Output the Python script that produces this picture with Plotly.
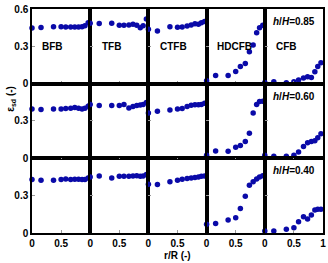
import plotly.graph_objects as go
from plotly.subplots import make_subplots

r_pos = [0, 0.155, 0.37, 0.5, 0.58, 0.665, 0.735, 0.8, 0.86, 0.91, 0.965]
beds = ["BFB", "TFB", "CTFB", "HDCFB", "CFB"]
heights = ["0.85", "0.60", "0.40"]

# h/H = 0.85
bfb_085 = [0.448, 0.452, 0.458, 0.458, 0.456, 0.456, 0.456, 0.456, 0.458, 0.466, 0.49]
tfb_085 = [0.486, 0.483, 0.486, 0.47, 0.47, 0.472, 0.478, 0.47, 0.45, 0.466, 0.52]
ctfb_085 = [0.438, 0.424, 0.458, 0.454, 0.456, 0.464, 0.472, 0.482, 0.478, 0.49, 0.5]
hdcfb_085 = [0.024, 0.066, 0.066, 0.098, 0.138, 0.162, 0.256, 0.31, 0.41, 0.45, 0.47]
cfb_085 = [0.01, 0.016, 0.008, 0.016, 0.03, 0.046, 0.056, 0.05, 0.096, 0.138, 0.168]
# h/H = 0.60
bfb_060 = [0.397, 0.392, 0.397, 0.397, 0.4, 0.403, 0.408, 0.403, 0.397, 0.403, 0.418]
tfb_060 = [0.432, 0.424, 0.424, 0.424, 0.432, 0.405, 0.416, 0.424, 0.429, 0.432, 0.448]
ctfb_060 = [0.365, 0.378, 0.389, 0.397, 0.4, 0.416, 0.427, 0.43, 0.43, 0.432, 0.443]
hdcfb_060 = [0.024, 0.058, 0.056, 0.09, 0.104, 0.136, 0.202, 0.365, 0.432, 0.456, 0.458]
cfb_060 = [0.024, 0.016, 0.016, 0.024, 0.05, 0.096, 0.125, 0.136, 0.141, 0.165, 0.197]
# h/H = 0.40
bfb_040 = [0.43, 0.424, 0.424, 0.43, 0.434, 0.43, 0.432, 0.432, 0.43, 0.43, 0.442]
tfb_040 = [0.45, 0.458, 0.442, 0.456, 0.456, 0.456, 0.458, 0.46, 0.456, 0.458, 0.47]
ctfb_040 = [0.392, 0.389, 0.411, 0.424, 0.432, 0.437, 0.442, 0.445, 0.45, 0.456, 0.458]
hdcfb_040 = [0.07, 0.077, 0.104, 0.123, 0.197, 0.296, 0.384, 0.411, 0.434, 0.45, 0.461]
cfb_040 = [0.016, 0.016, 0.03, 0.043, 0.09, 0.13, 0.112, 0.144, 0.184, 0.19, 0.19]

rows_data = [
    [bfb_085, tfb_085, ctfb_085, hdcfb_085, cfb_085],
    [bfb_060, tfb_060, ctfb_060, hdcfb_060, cfb_060],
    [bfb_040, tfb_040, ctfb_040, hdcfb_040, cfb_040],
]

FONT = "Liberation Sans"
MARK = "#0a0aa8"

fig = make_subplots(rows=3, cols=5, horizontal_spacing=0, vertical_spacing=0)

for i, row in enumerate(rows_data):
    for j, ys in enumerate(row):
        fig.add_trace(go.Scatter(x=r_pos, y=ys, mode="markers",
                                 marker=dict(color=MARK, size=5.5),
                                 cliponaxis=False, showlegend=False),
                      row=i + 1, col=j + 1)

tickfont = dict(family=FONT, size=10, color="black", weight="bold")
for i in range(3):
    for j in range(5):
        xt = [0, 0.5, 1] if j == 4 else [0, 0.5]
        fig.update_xaxes(range=[0, 1], tickvals=xt, ticktext=[f"{v:g}" for v in xt],
                         showticklabels=(i == 2), showgrid=False, zeroline=False,
                         showline=True, mirror=True, linecolor="black", linewidth=1.5,
                         ticks="inside", ticklen=3, tickcolor="#999999",
                         tickfont=tickfont, row=i + 1, col=j + 1)
        yt = [0, 0.3, 0.6] if i == 0 else [0, 0.3]
        fig.update_yaxes(range=[0, 0.6], tickvals=yt, ticktext=[f"{v:g}" for v in yt],
                         showticklabels=(j == 0), showgrid=False, zeroline=False,
                         showline=True, mirror=True, linecolor="black", linewidth=1.5,
                         ticks="inside", ticklen=3, tickcolor="#999999",
                         tickfont=tickfont, row=i + 1, col=j + 1)

label_x = [0.36, 0.37, 0.43, 0.48, 0.37]
for j, name in enumerate(beds):
    fig.add_annotation(x=label_x[j], y=0.3, text=f"<b>{name}</b>", showarrow=False,
                       font=dict(family=FONT, size=10, color="black"),
                       xref=f"x{j + 1 if j else ''}", yref=f"y{j + 1 if j else ''}")

for i, h in enumerate(heights):
    idx = i * 5 + 5
    fig.add_annotation(x=0.5, y=0.5, text=f"<b><i>h</i>/<i>H</i>={h}</b>", showarrow=False,
                       font=dict(family=FONT, size=10, color="black"),
                       xref=f"x{idx}", yref=f"y{idx}")

fig.add_annotation(x=-0.075, y=0.6, xref="paper", yref="paper", text="<b>ε<sub>sd</sub> (-)</b>",
                   textangle=-90, showarrow=False, xanchor="center", yanchor="middle",
                   font=dict(family=FONT, size=10, color="black"))
fig.add_annotation(x=0.5, y=-0.135, xref="paper", yref="paper", text="<b>r/R (-)</b>",
                   showarrow=False, font=dict(family=FONT, size=10, color="black"))

fig.update_layout(width=328, height=263, margin=dict(l=32, r=3, t=8, b=30),
                  paper_bgcolor="white", plot_bgcolor="white")

fig.write_html("out.html")
